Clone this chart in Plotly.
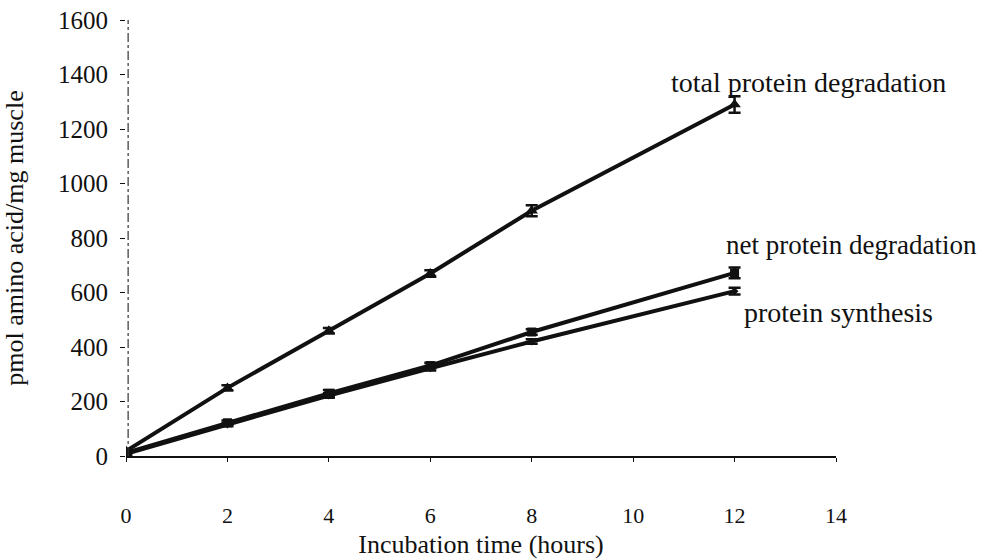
import plotly.graph_objects as go

# Incubation time (hours)
hours = [0, 2, 4, 6, 8, 12]

# pmol amino acid / mg muscle
total_degradation = [18, 250, 460, 670, 900, 1290]
total_err = [8, 10, 10, 12, 20, 30]

net_degradation = [12, 122, 230, 332, 455, 672]
net_err = [6, 8, 12, 10, 10, 20]

synthesis = [8, 115, 222, 322, 420, 605]
synth_err = [5, 6, 8, 8, 8, 12]

x_ticks = [0, 2, 4, 6, 8, 10, 12, 14]
y_ticks = [0, 200, 400, 600, 800, 1000, 1200, 1400, 1600]

FONT = "Liberation Serif, Times New Roman, serif"
INK = "#111111"

fig = go.Figure()


def add_series(y, err, symbol, size):
    fig.add_trace(go.Scatter(
        x=hours, y=y, mode="lines+markers",
        line=dict(color=INK, width=4),
        marker=dict(symbol=symbol, size=size, color=INK),
        error_y=dict(type="data", array=err, visible=True,
                     color=INK, thickness=2.5, width=6),
        showlegend=False, hoverinfo="skip",
    ))


add_series(synthesis, synth_err, "diamond", 6)
add_series(net_degradation, net_err, "square", 9)
add_series(total_degradation, total_err, "triangle-up", 11)

# Origin blob where the curves meet
fig.add_trace(go.Scatter(
    x=[0], y=[0], mode="markers",
    marker=dict(symbol="circle", size=13, color=INK),
    showlegend=False, hoverinfo="skip",
))

labels = [
    ("total protein degradation", 10.7, total_degradation[-1] + 80, 28),
    ("net protein degradation", 11.8, net_degradation[-1] + 103, 27),
    ("protein synthesis", 12.15, synthesis[-1] - 80, 28),
]
for text, lx, ly, fs in labels:
    fig.add_annotation(x=lx, y=ly, text=text, showarrow=False,
                       xanchor="left", yanchor="middle",
                       font=dict(family=FONT, size=fs, color=INK))

# Vertical axis drawn as a broken rule
fig.add_shape(type="line", xref="paper", yref="paper",
              x0=0.003, x1=0.003, y0=0, y1=1,
              line=dict(color="#333333", width=1.2, dash="dashdot"))

fig.update_layout(
    width=986, height=559,
    margin=dict(l=126, r=150, t=20, b=103),
    paper_bgcolor="white", plot_bgcolor="white",
    font=dict(family=FONT, size=25, color=INK),
)

fig.update_xaxes(
    range=[0, 14], tickvals=x_ticks, ticktext=[str(v) for v in x_ticks],
    showgrid=False, zeroline=False, automargin=False,
    showline=True, linecolor=INK, linewidth=2,
    ticks="outside", ticklen=4, tickcolor=INK, tickwidth=1,
    ticklabelstandoff=35,
    title=dict(text="Incubation time (hours)", standoff=9,
               font=dict(family=FONT, size=26, color=INK)),
    tickfont=dict(family=FONT, size=22, color=INK),
)

fig.update_yaxes(
    range=[0, 1600], tickvals=y_ticks, ticktext=[str(v) for v in y_ticks],
    showgrid=False, zeroline=False, automargin=False,
    showline=False,
    ticks="outside", ticklen=5, tickcolor=INK, tickwidth=1,
    ticklabelstandoff=7,
    title=dict(text="pmol amino acid/mg muscle", standoff=29,
               font=dict(family=FONT, size=26, color=INK)),
    tickfont=dict(family=FONT, size=25, color=INK),
)

fig.write_html("out.html")
